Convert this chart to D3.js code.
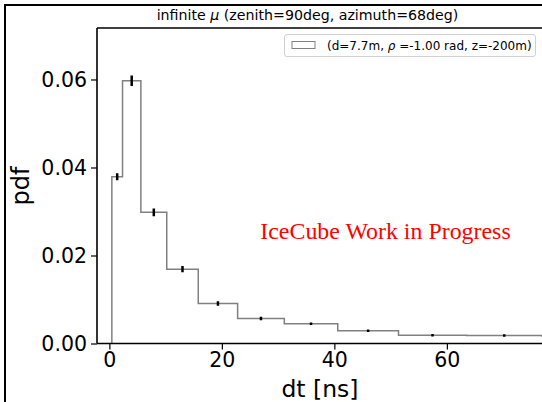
<!DOCTYPE html>
<html><head><meta charset="utf-8">
<script src="https://cdn.jsdelivr.net/npm/d3@7"></script>
<style>body{margin:0;background:#fff}svg{display:block}</style>
</head><body>
<script>
const binEdges = [0.44, 2.34, 5.6, 10.2, 15.8, 22.8, 31.1, 40.6, 51.4, 63.5, 76.9, 91.6];
const pdfValues = [0.0379, 0.0597, 0.0298, 0.0169, 0.0091, 0.0057, 0.0045, 0.0029, 0.0019, 0.0018, 0.0017];
const pdfErrors = [0.0008, 0.0012, 0.0009, 0.0007, 0.0005, 0.0004, 0.0003, 0.0002, 0.0002, 0.0002, 0.0002];
const xTicks = [0, 20, 40, 60];
const yTicks = [0.00, 0.02, 0.04, 0.06];

const W = 542, H = 402;
const L = 97, T = 28, B = 343.5, R = 560;
const svg = d3.select("body").append("svg").attr("width", W).attr("height", H)
  .style("font-family", "DejaVu Sans, sans-serif");

const x = d3.scaleLinear().domain([-2.2, 80]).range([L, L + 82.2 * 5.625]);
const y = d3.scaleLinear().domain([0, 0.0717]).range([B, T]);

// outer figure frame
svg.append("rect").attr("x", 5).attr("y", 5).attr("width", 600).attr("height", 500)
  .attr("fill", "none").attr("stroke", "#000").attr("stroke-width", 2);

// histogram step path
const pts = [[binEdges[0], 0]];
pdfValues.forEach((v, i) => { pts.push([binEdges[i], v]); pts.push([binEdges[i + 1], v]); });
pts.push([binEdges[binEdges.length - 1], 0]);
svg.append("clipPath").attr("id", "c").append("rect")
  .attr("x", L).attr("y", T).attr("width", R - L).attr("height", B - T);
const g = svg.append("g").attr("clip-path", "url(#c)");
g.append("path").attr("d", d3.line().x(d => x(d[0])).y(d => y(d[1]))(pts))
  .attr("fill", "none").attr("stroke", "#808080").attr("stroke-width", 1.5);

// error bars
pdfValues.forEach((v, i) => {
  const c = (binEdges[i] + binEdges[i + 1]) / 2;
  let y1 = y(v + pdfErrors[i]), y2 = y(v - pdfErrors[i]);
  if (y2 - y1 < 2.5) { const m = (y1 + y2) / 2; y1 = m - 1.25; y2 = m + 1.25; }
  g.append("line").attr("x1", x(c)).attr("x2", x(c)).attr("y1", y1).attr("y2", y2)
    .attr("stroke", "#000").attr("stroke-width", 2.5);
});

// axes
const xAxis = svg.append("g").attr("transform", `translate(0,${B})`)
  .call(d3.axisBottom(x).tickValues(xTicks).tickSize(6).tickPadding(3).tickFormat(d3.format("d")));
const yAxis = svg.append("g").attr("transform", `translate(${L},0)`)
  .call(d3.axisLeft(y).tickValues(yTicks).tickSize(6).tickPadding(4).tickFormat(d3.format(".2f")));
[xAxis, yAxis].forEach(a => {
  a.select(".domain").remove();
  a.selectAll(".tick line").attr("stroke", "#000").attr("stroke-width", 1.2);
  a.selectAll("text").attr("font-family", "DejaVu Sans, sans-serif").attr("font-size", 20.5).attr("fill", "#000");
});
// spines
svg.append("line").attr("x1", L).attr("x2", R).attr("y1", B).attr("y2", B).attr("stroke", "#000").attr("stroke-width", 1.6);
svg.append("line").attr("x1", L).attr("x2", L).attr("y1", T).attr("y2", B).attr("stroke", "#000").attr("stroke-width", 1.6);
svg.append("line").attr("x1", L).attr("x2", R).attr("y1", T).attr("y2", T).attr("stroke", "#000").attr("stroke-width", 1.6);

// labels
svg.append("text").attr("x", 320).attr("y", 397).attr("text-anchor", "middle")
  .attr("font-size", 23.5).text("dt [ns]");
svg.append("text").attr("transform", "translate(29,186) rotate(-90)").attr("text-anchor", "middle")
  .attr("font-size", 24).text("pdf");
const title = svg.append("text").attr("x", 307.5).attr("y", 20).attr("text-anchor", "middle")
  .attr("font-size", 14.2);
title.append("tspan").text("infinite ");
title.append("tspan").attr("font-style", "italic").text("\u03bc");
title.append("tspan").text(" (zenith=90deg, azimuth=68deg)");

// legend
svg.append("rect").attr("x", 284.5).attr("y", 34.5).attr("width", 251).attr("height", 22).attr("rx", 2.5)
  .attr("fill", "#fff").attr("stroke", "#d0d0d0").attr("stroke-width", 1);
svg.append("rect").attr("x", 292).attr("y", 41.5).attr("width", 23).attr("height", 7)
  .attr("fill", "none").attr("stroke", "#808080").attr("stroke-width", 1);
const lt = svg.append("text").attr("x", 327).attr("y", 50).attr("font-size", 12);
lt.append("tspan").text("(d=7.7m, ");
lt.append("tspan").attr("font-style", "italic").text("\u03c1");
lt.append("tspan").text(" =-1.00 rad, z=-200m)");

// watermark
svg.append("text").attr("x", 385.5).attr("y", 239).attr("text-anchor", "middle")
  .attr("font-family", "Liberation Serif, Times New Roman, serif").attr("font-size", 23.9)
  .attr("fill", "red").text("IceCube Work in Progress");
</script>
</body></html>
